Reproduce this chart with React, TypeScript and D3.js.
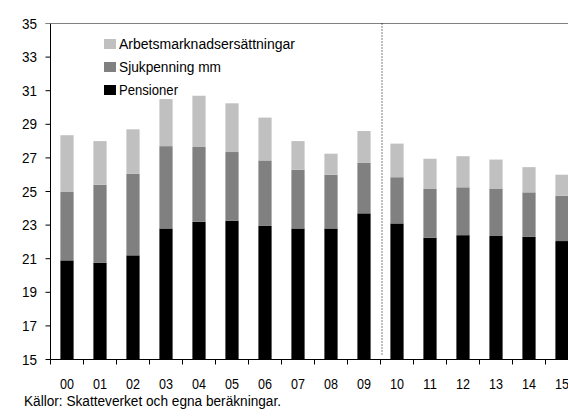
import React, { useRef, useEffect } from 'react'
import * as d3 from 'd3'

const years = ['00', '01', '02', '03', '04', '05', '06', '07', '08', '09', '10', '11', '12', '13', '14', '15']
// stacked components
const pensioner = [20.9, 20.75, 21.2, 22.8, 23.2, 23.25, 22.95, 22.8, 22.8, 23.7, 23.1, 22.25, 22.4, 22.35, 22.3, 22.05]
const sjukpenning = [4.1, 4.65, 4.85, 4.9, 4.45, 4.1, 3.9, 3.5, 3.2, 3.0, 2.75, 2.9, 2.85, 2.8, 2.65, 2.7]
const arbets = [3.35, 2.6, 2.65, 2.8, 3.05, 2.9, 2.55, 1.7, 1.25, 1.9, 2.0, 1.8, 1.85, 1.75, 1.5, 1.25]
const yTicks = [15, 17, 19, 21, 23, 25, 27, 29, 31, 33, 35]
const seriesNames = ['Pensioner', 'Sjukpenning mm', 'Arbetsmarknadsersättningar']
const seriesColors = ['#000000', '#808080', '#c0c0c0']
const source = 'Källor: Skatteverket och egna beräkningar.'

const W = 568, H = 416
const FONT = '"Liberation Sans", Arial, sans-serif'
// condensed look: squeeze text to the widths measured in the picture
const legendWidths = [59, 102, 176]

export default function App() {
  const ref = useRef<SVGSVGElement>(null)

  useEffect(() => {
    const svg = d3.select(ref.current)
    svg.selectAll('*').remove()

    const left = 50.5, top = 23.5, bottom = 359.5
    const band = 33
    const x = d3.scaleBand<string>()
      .domain(years)
      .range([left, left + band * years.length])
      .paddingInner(0.6)
      .paddingOuter(0.3)
    // axis starts at 15, so clamp the stack base
    const y = d3.scaleLinear().domain([15, 35]).range([bottom, top]).clamp(true)

    const rows = years.map((yr, i) => ({ yr, p: pensioner[i], s: sjukpenning[i], a: arbets[i] }))
    const layers = d3.stack<any>().keys(['p', 's', 'a'])(rows)

    // bars
    layers.forEach((layer, k) => {
      svg.append('g')
        .selectAll('rect')
        .data(layer)
        .join('rect')
        .attr('x', d => x(d.data.yr)!)
        .attr('width', x.bandwidth())
        .attr('y', d => y(d[1]))
        .attr('height', d => y(d[0]) - y(d[1]))
        .attr('fill', seriesColors[k])
    })

    // top border
    svg.append('line')
      .attr('x1', left - 5).attr('x2', W)
      .attr('y1', top).attr('y2', top)
      .attr('stroke', '#808080').attr('stroke-width', 1)

    // left axis
    const yAxis = svg.append('g')
    yAxis.append('line')
      .attr('x1', left).attr('x2', left)
      .attr('y1', top).attr('y2', bottom)
      .attr('stroke', '#000')
    yAxis.selectAll('line.yt')
      .data(yTicks)
      .join('line')
      .attr('class', 'yt')
      .attr('x1', left - 5).attr('x2', left)
      .attr('y1', d => y(d)).attr('y2', d => y(d))
      .attr('stroke', d => (d === 35 ? '#808080' : '#000'))
    yAxis.selectAll('text')
      .data(yTicks)
      .join('text')
      .attr('x', 37).attr('y', d => y(d) + 5)
      .attr('text-anchor', 'end')
      .attr('font-family', FONT).attr('font-size', 14).attr('fill', '#000')
      .attr('textLength', 15).attr('lengthAdjust', 'spacingAndGlyphs')
      .text(d => String(d))

    // bottom axis, ticks between categories
    const xAxis = svg.append('g')
    xAxis.append('line')
      .attr('x1', left).attr('x2', W)
      .attr('y1', bottom).attr('y2', bottom)
      .attr('stroke', '#000')
    xAxis.selectAll('line.xt')
      .data(d3.range(years.length + 1))
      .join('line')
      .attr('class', 'xt')
      .attr('x1', i => left + i * band).attr('x2', i => left + i * band)
      .attr('y1', bottom).attr('y2', bottom + 5)
      .attr('stroke', '#000')
    xAxis.selectAll('text')
      .data(years)
      .join('text')
      .attr('x', d => x(d)! + x.bandwidth() / 2 - 7)
      .attr('y', 389)
      .attr('font-family', FONT).attr('font-size', 14).attr('fill', '#000')
      .attr('textLength', 14).attr('lengthAdjust', 'spacingAndGlyphs')
      .text(d => d)

    // dotted separator between outcome and forecast
    const sepX = left + 10 * band + 1.5
    svg.append('line')
      .attr('x1', sepX).attr('x2', sepX)
      .attr('y1', top).attr('y2', bottom - 5)
      .attr('stroke', '#000').attr('stroke-width', 1)
      .attr('stroke-dasharray', '1,2')

    // legend
    const legend = svg.append('g').attr('transform', 'translate(104,39)')
    const order = [2, 1, 0]
    order.forEach((k, i) => {
      const g = legend.append('g').attr('transform', `translate(0,${i * 23})`)
      g.append('rect').attr('width', 12).attr('height', 10).attr('fill', seriesColors[k])
      g.append('text')
        .attr('x', 15).attr('y', 10)
        .attr('font-family', FONT).attr('font-size', 14).attr('fill', '#000')
        .attr('textLength', legendWidths[k]).attr('lengthAdjust', 'spacingAndGlyphs')
        .text(seriesNames[k])
    })

    // source
    svg.append('text')
      .attr('x', 24).attr('y', 406)
      .attr('font-family', FONT).attr('font-size', 14).attr('fill', '#000')
      .attr('textLength', 257).attr('lengthAdjust', 'spacingAndGlyphs')
      .text(source)
  }, [])

  return (
    <svg ref={ref} width={W} height={H} viewBox={`0 0 ${W} ${H}`}
      style={{ position: 'absolute', left: 0, top: 0, background: '#fff' }} />
  )
}
